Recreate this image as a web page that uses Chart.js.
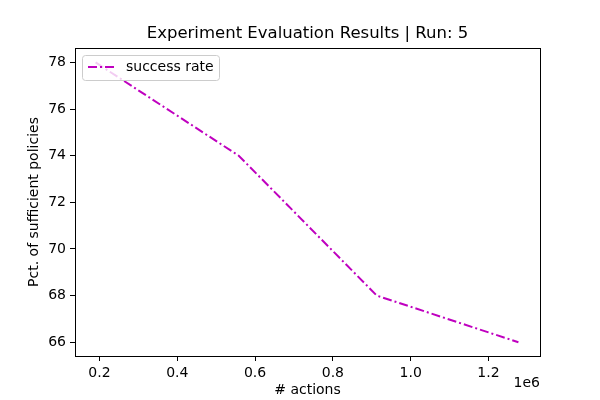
<!DOCTYPE html>
<html lang="en">
<head>
    <meta charset="UTF-8">
    <title>Experiment Evaluation Results</title>
    <style>
        html, body { margin: 0; padding: 0; background: #fff; }
        canvas { display: block; }
    </style>
    <script src="https://cdn.jsdelivr.net/npm/chart.js"></script>
</head>
<body>
    <canvas id="chart" width="600" height="400"></canvas>

    <script>
        // values
        const actions = [190000, 558000, 913000, 1277000];
        const successRate = [78.0, 74.0, 68.0, 66.0];
        const xTicks = [200000, 400000, 600000, 800000, 1000000, 1200000];
        const yTicks = [66, 68, 70, 72, 74, 76, 78];

        const FONT = "'DejaVu Sans', sans-serif";
        const MAGENTA = '#bf00bf';

        // titles, offset text, frame and legend drawn inside the canvas
        const decorations = {
            id: 'decorations',
            afterDatasetsDraw(chart) {
                const ctx = chart.ctx;
                const a = chart.chartArea;
                ctx.save();

                // frame
                ctx.strokeStyle = '#000';
                ctx.lineWidth = 1;
                ctx.strokeRect(a.left + 0.5, a.top + 0.5, a.right - a.left, a.bottom - a.top);

                // legend box
                const lx = 82.5, ly = 55.5, lw = 137, lh = 25, r = 3;
                ctx.beginPath();
                ctx.moveTo(lx + r, ly);
                ctx.arcTo(lx + lw, ly, lx + lw, ly + lh, r);
                ctx.arcTo(lx + lw, ly + lh, lx, ly + lh, r);
                ctx.arcTo(lx, ly + lh, lx, ly, r);
                ctx.arcTo(lx, ly, lx + lw, ly, r);
                ctx.closePath();
                ctx.fillStyle = 'rgba(255,255,255,0.8)';
                ctx.fill();
                ctx.strokeStyle = '#cccccc';
                ctx.stroke();

                ctx.beginPath();
                ctx.setLineDash([9, 3, 2, 3]);
                ctx.strokeStyle = MAGENTA;
                ctx.lineWidth = 2;
                ctx.moveTo(88, 67);
                ctx.lineTo(116, 67);
                ctx.stroke();
                ctx.setLineDash([]);

                ctx.fillStyle = '#000';
                ctx.font = '14px ' + FONT;
                ctx.textAlign = 'left';
                ctx.textBaseline = 'middle';
                ctx.fillText('success rate', 126, 67);

                // title
                ctx.font = '16.5px ' + FONT;
                ctx.textAlign = 'center';
                ctx.fillText('Experiment Evaluation Results | Run: 5', (a.left + a.right) / 2, 34);

                // axis labels
                ctx.font = '14px ' + FONT;
                ctx.fillText('# actions', (a.left + a.right) / 2, 390);
                ctx.textAlign = 'right';
                ctx.fillText('1e6', a.right, 383);

                ctx.save();
                ctx.translate(34, (a.top + a.bottom) / 2);
                ctx.rotate(-Math.PI / 2);
                ctx.textAlign = 'center';
                ctx.fillText('Pct. of sufficient policies', 0, 0);
                ctx.restore();

                ctx.restore();
            }
        };

        new Chart(document.getElementById('chart'), {
            type: 'line',
            data: {
                datasets: [{
                    label: 'success rate',
                    data: actions.map((x, i) => ({ x: x, y: successRate[i] })),
                    borderColor: MAGENTA,
                    borderWidth: 2,
                    borderDash: [9, 3, 2, 3],
                    pointRadius: 0,
                    fill: false,
                    tension: 0
                }]
            },
            options: {
                responsive: false,
                animation: false,
                layout: { padding: { left: 0, right: 60, top: 48, bottom: 0 } },
                plugins: {
                    legend: { display: false },
                    title: { display: false },
                    tooltip: { enabled: false }
                },
                scales: {
                    x: {
                        type: 'linear',
                        min: 137000,
                        max: 1332500,
                        afterFit(scale) { scale.height = 44; },
                        afterBuildTicks(scale) { scale.ticks = xTicks.map(v => ({ value: v })); },
                        grid: { drawOnChartArea: false, drawTicks: true, tickLength: 5, color: '#000' },
                        border: { display: true, color: '#000' },
                        ticks: {
                            color: '#000',
                            padding: 4,
                            maxRotation: 0,
                            font: { family: FONT, size: 14 },
                            callback: v => (v / 1e6).toFixed(1)
                        }
                    },
                    y: {
                        min: 65.41,
                        max: 78.62,
                        afterFit(scale) { scale.width = 75; },
                        afterBuildTicks(scale) { scale.ticks = yTicks.map(v => ({ value: v })); },
                        grid: { drawOnChartArea: false, drawTicks: true, tickLength: 5, color: '#000' },
                        border: { display: true, color: '#000' },
                        ticks: {
                            color: '#000',
                            padding: 4,
                            font: { family: FONT, size: 14 },
                            callback: v => String(v)
                        }
                    }
                }
            },
            plugins: [decorations]
        });
    </script>
</body>
</html>
